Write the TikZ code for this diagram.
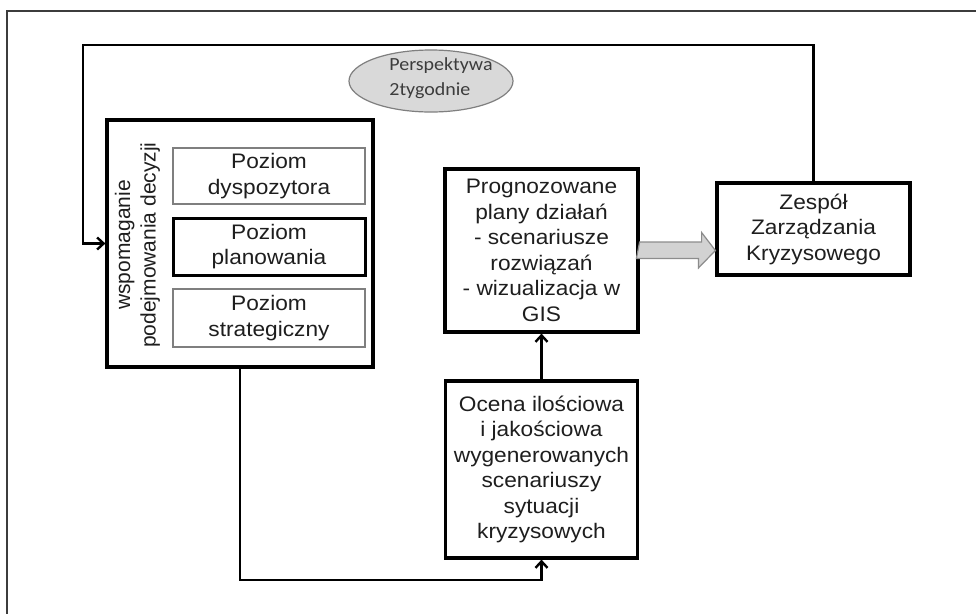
\documentclass[tikz,border=0pt]{standalone}
\usepackage{fontspec}
\setmainfont{Liberation Sans}[FakeStretch=1.08]
\newfontfamily\sidefont{Liberation Sans}
\newfontfamily\notefont{Carlito}[FakeStretch=1.08]
\usetikzlibrary{arrows.meta,shapes.geometric}

\definecolor{framegray}{HTML}{3C3C3C}
\definecolor{notefill}{HTML}{D9D9D9}
\definecolor{noteline}{HTML}{7F7F7F}
\definecolor{arrowfill}{HTML}{D2D2D2}
\definecolor{arrowline}{HTML}{8C8C8C}
\definecolor{inktext}{HTML}{1E1E1E}

\begin{document}
\begin{tikzpicture}[x=1pt,y=-1pt,
  box/.style={draw=black, line width=3.2pt, fill=white, inner sep=0pt,
    align=center, text=inktext, font=\fontsize{21}{25.5}\selectfont},
  levelbox/.style={draw=noteline, line width=1.2pt, fill=white, inner sep=0pt,
    align=center, text=inktext, minimum width=192, font=\fontsize{21}{25.5}\selectfont},
  keylevel/.style={levelbox, draw=black, line width=3pt},
  note/.style={ellipse, draw=noteline, line width=1.2pt, fill=notefill,
    minimum width=164, minimum height=62, inner sep=0pt},
  conn/.style={draw=black, line width=2.8pt},
  tip/.style={-{Straight Barb[length=6.5pt,width=12pt,line width=2.4pt]}},
  bigarrow/.style={draw=arrowline, fill=arrowfill, line width=1.2pt, line join=miter},
]
\useasboundingbox (0,0) rectangle (976,614);
\fill[white] (0,0) rectangle (976,614);

% page frame
\draw[framegray, line width=2.8pt] (976,11) -- (7,11) -- (7,614);

% decision support block with its three levels
\node[box, minimum width=266, minimum height=247] (L) at (240,243.5) {};
\node[rotate=90, align=center, text=inktext,
  font=\sidefont\fontsize{21}{25.5}\selectfont] (Ltitle) at (137.5,245)
  {wspomaganie\\podejmowania decyzji};
\node[levelbox, minimum height=56] (B1) at (269,176) {Poziom\\dyspozytora};
\node[keylevel, minimum height=57] (B2) at (269,246.5) {Poziom\\planowania};
\node[levelbox, minimum height=58] (B3) at (269,318) {Poziom\\strategiczny};

% planning outputs, crisis team, evaluation
\node[box, minimum width=193, minimum height=163] (P) at (541.5,250.5)
  {Prognozowane\\plany działań\\- scenariusze\\rozwiązań\\- wizualizacja w\\GIS};
\node[box, minimum width=193, minimum height=92] (Z) at (813.5,229)
  {Zespół\\Zarządzania\\Kryzysowego};
\node[box, minimum width=192, minimum height=177] (O) at (541.5,469.5)
  {Ocena ilościowa\\i jakościowa\\wygenerowanych\\scenariuszy\\sytuacji\\kryzysowych};

% time horizon note
\node[note] (E) at (431,81) {};
\node[align=left, text=framegray, font=\notefont\fontsize{18.5}{25}\selectfont]
  (Etext) at (441,78.5) {Perspektywa\\2tygodnie};

% feedback loop from the crisis team back to decision support
\coordinate (loopL) at (83,45);
\draw[conn, tip] (Z.north) |- (loopL) |- (L.west);

% decision support to evaluation
\coordinate (bottomL) at (240,580);
\draw[conn, tip] (L.south) -- (bottomL) -| (O.south);

% evaluation to forecast plans
\draw[conn, tip] (O.north) -- (P.south);

% wide block arrow from plans to the crisis team
\draw[bigarrow] (P.east) ++(0,-8.5) -- ++(62,0) -- ++(0,-9.5)
  -- (Z.west |- P.east) -- ++(-17,17.5) -- ++(0,-9.5) -- ++(-62,0) -- cycle;
\end{tikzpicture}
\end{document}
